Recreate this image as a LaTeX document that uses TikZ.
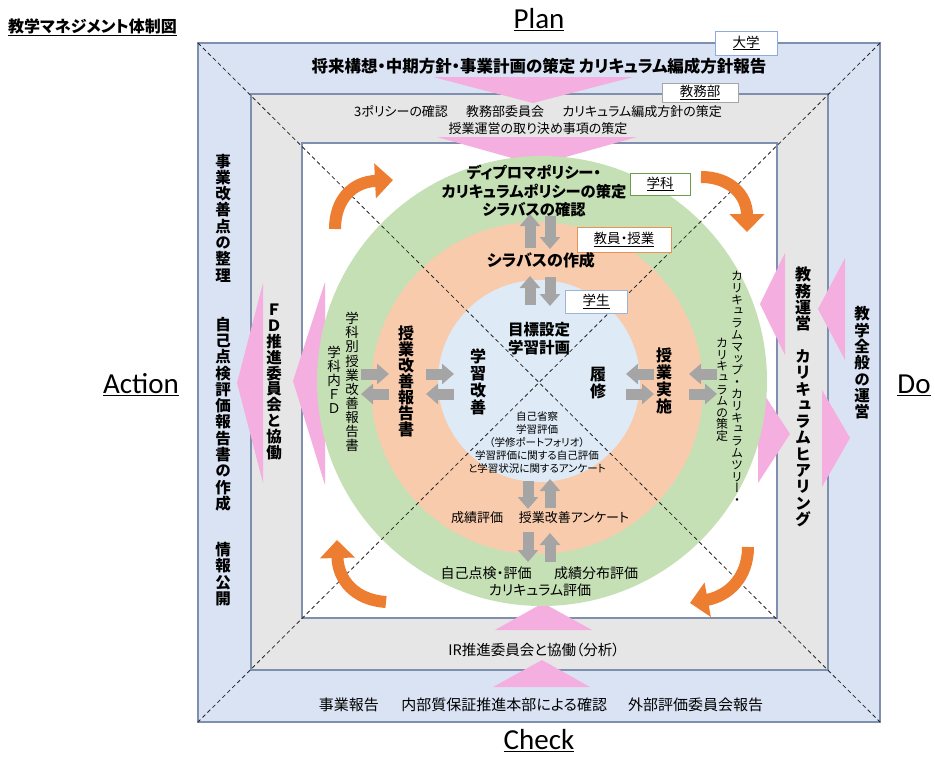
\documentclass[tikz,border=0pt]{standalone}
\usepackage{fontspec}
\setmainfont{Noto Sans CJK JP}[RawFeature=+palt]
\newfontfamily\jpv{Noto Sans CJK JP}[RawFeature=+vert]
\newfontfamily\lat{Carlito}
\usetikzlibrary{arrows.meta}
\definecolor{bandblue}{HTML}{DAE3F3}
\definecolor{bandgray}{HTML}{E7E6E6}
\definecolor{framec}{HTML}{7F8FAE}
\definecolor{cgreen}{HTML}{C5E0B4}
\definecolor{corange}{HTML}{F8CBAD}
\definecolor{cblue}{HTML}{DEEBF7}
\definecolor{cpink}{HTML}{F4AEE0}
\definecolor{carrow}{HTML}{ED7D31}
\definecolor{cgray}{HTML}{A5A5A5}
\definecolor{bxblue}{HTML}{8FAADC}
\definecolor{bxgray}{HTML}{A6A6A6}
\definecolor{bxgreen}{HTML}{6B9B4B}
\definecolor{bxorange}{HTML}{E8925A}
\definecolor{bxstud}{HTML}{9EB3D6}
\ExplSyntaxOn
\cs_new_protected:Npn \my_vstack:nn #1#2
  {
    \vbox:n
      {
        \skip_set:Nn \baselineskip {#1}
        \dim_set:Nn \lineskiplimit { -\c_max_dim }
        \tl_map_inline:nn {#2} { \hbox_to_wd:nn { 1.2em } { \hfil ##1 \hfil } }
      }
  }
\NewDocumentCommand \vt { O{1.05em} m } { { \jpv \my_vstack:nn {#1} {#2} } }
\ExplSyntaxOff
\newcommand\fz[2]{\fontsize{#1}{#2}\selectfont}
\begin{document}
\begin{tikzpicture}[x=1pt,y=-1pt,
  t/.style={inner sep=0pt, align=center, text=black},
  lbl/.style={fill=white, line width=1pt, inner sep=0pt, font=\fz{13.5}{16}},
  pinkarrow/.style={fill=cpink},
  oarrow/.style={draw=carrow, line width=12pt, -{Triangle[length=18pt,width=34pt]}},
  garrow/.style={draw=cgray, line width=11pt, -{Triangle[length=12pt,width=20pt]}},
  diag/.style={dash pattern=on 4pt off 3pt, line width=0.8pt, black!85}]
\useasboundingbox[fill=white] (0,0) rectangle (935,758);
% frames
\filldraw[fill=bandblue, draw=framec, line width=1.1pt] (198,43) rectangle (880,722);
\filldraw[fill=bandgray, draw=framec, line width=1.1pt] (251,94) rectangle (828,670);
\filldraw[fill=white, draw=framec, line width=1.1pt] (302,143) rectangle (777,618);
% pink arrows
\fill[pinkarrow] (433,77) -- (633,77) -- (533,103) -- cycle;
\fill[pinkarrow] (437,137) -- (637,137) -- (537,165) -- cycle;
\fill[pinkarrow] (495,630) -- (592,630) -- (543,603) -- cycle;
\fill[pinkarrow] (493,687) -- (590,687) -- (542,660) -- cycle;
\fill[pinkarrow] (263,283) -- (263,483) -- (237,383) -- cycle;
\fill[pinkarrow] (325,282) -- (325,485) -- (293,381) -- cycle;
\fill[pinkarrow] (785,253) -- (785,355) -- (760,304) -- cycle;
\fill[pinkarrow] (845,258) -- (845,360) -- (818,309) -- cycle;
\fill[pinkarrow] (758,385) -- (758,483) -- (790,434) -- cycle;
\fill[pinkarrow] (822,390) -- (822,487) -- (850,438) -- cycle;
% circles
\fill[cgreen] (542,381) circle[radius=225];
\fill[corange] (537,388) circle[radius=166];
\fill[cblue] (539,381) circle[radius=101];
% diagonals
\draw[diag] (198,43) -- (880,722);
\draw[diag] (880,43) -- (198,722);
% orange cycle arrows
\draw[oarrow] (335,229) .. controls (335,200) and (352,182) .. (393,180);
\draw[oarrow] (701,177) .. controls (730,177) and (747,195) .. (747,232);
\draw[oarrow] (748,547) .. controls (748,578) and (728,596) .. (690,603);
\draw[oarrow] (386,602) .. controls (355,600) and (338,580) .. (337,540);
% gray arrows
\draw[garrow] (530,248) -- (530,214);
\draw[garrow] (550,216) -- (550,249);
\draw[garrow] (530,305) -- (530,276);
\draw[garrow] (550,277) -- (550,306);
\draw[garrow] (528,481) -- (528,509);
\draw[garrow] (550,508) -- (550,479);
\draw[garrow] (528,532) -- (528,562);
\draw[garrow] (550,562) -- (550,533);
\draw[garrow] (361,374) -- (389,374);
\draw[garrow] (389,394) -- (361,394);
\draw[garrow] (426,374) -- (454,374);
\draw[garrow] (454,394) -- (426,394);
\draw[garrow] (654,374) -- (626,374);
\draw[garrow] (626,394) -- (654,394);
\draw[garrow] (717,374) -- (689,374);
\draw[garrow] (689,394) -- (717,394);
% label boxes
\node[lbl, draw=bxblue, minimum width=62pt, minimum height=24pt] (daigaku) at (746,43) {\underline{大学}};
\node[lbl, draw=bxgray, minimum width=76pt, minimum height=19pt] (kyomubu) at (700,92.5) {\underline{教務部}};
\node[lbl, draw=bxgreen, minimum width=60pt, minimum height=22pt] (gakka) at (660,184) {\underline{学科}};
\node[lbl, draw=bxorange, minimum width=94pt, minimum height=25pt] (kyoin) at (624,239.5) {\underline{教員・授業}};
\node[lbl, draw=bxstud, minimum width=62pt, minimum height=23pt] (gakusei) at (596,301.5) {\underline{学生}};
% corner labels
\node[t, anchor=west, font=\fz{16}{19}\bfseries] (title) at (8,27) {\underline{教学マネジメント体制図}};
\node[t, font=\lat\fz{29}{34}] (plan) at (539,20) {\underline{Plan}};
\node[t, font=\lat\fz{29}{34}] (check) at (539,741) {\underline{Check}};
\node[t, font=\lat\fz{29}{34}] (action) at (141,385) {\underline{Action}};
\node[t, font=\lat\fz{29}{34}] (do) at (914,385) {\underline{Do}};
% top band texts
\node[t, font=\fz{16.5}{19}\bfseries] (univ) at (539,66) {将来構想・中期方針・事業計画の策定 カリキュラム編成方針報告};
\node[t, font=\fz{13}{17}] (kyomu) at (538,120.5) {3ポリシーの確認\hspace{1.4em}教務部委員会\hspace{1.4em}カリキュラム編成方針の策定\\授業運営の取り決め事項の策定};
% circle texts
\node[t, font=\fz{15.3}{18.5}\bfseries] (dp) at (534,191.5) {ディプロマポリシー・\\カリキュラムポリシーの策定\\シラバスの確認};
\node[t, font=\fz{16}{18}\bfseries] (syl) at (541,260) {シラバスの作成};
\node[t, font=\fz{15.5}{18}\bfseries] (goal) at (539,338.5) {目標設定\\学習計画};
\node[t, font=\fz{10.5}{12.8}] (self) at (537,442.5) {自己省察\\学習評価\\（学修ポートフォリオ）\\学習評価に関する自己評価\\と学習状況に関するアンケート};
\node[t, font=\fz{16}{17}\bfseries] (kaizen) at (478,382) {\vt[17pt]{学習改善}};
\node[t, font=\fz{16}{17}\bfseries] (rishu) at (598,383) {\vt[17pt]{履修}};
\node[t, font=\fz{16}{17}\bfseries] (jisshi) at (664,381) {\vt[17pt]{授業実施}};
\node[t, font=\fz{16}{16}\bfseries] (hokoku) at (406,381) {\vt[16pt]{授業改善報告書}};
\node[t, font=\fz{13.5}{14}] (gakkabetsu) at (352,382) {\vt[14.1pt]{学科別授業改善報告書}};
\node[t, font=\fz{13.5}{14}] (gakkanai) at (334,380) {\vt[14pt]{学科内ＦＤ}};
\node[t, font=\fz{12}{12}] (cmap) at (737,388) {\vt[11.8pt]{カリキュラムマップ・カリキュラムツリー・}};
\node[t, font=\fz{12}{12}] (csaku) at (722,390) {\vt[11.6pt]{カリキュラムの策定}};
\node[t, font=\fz{13}{15}] (seiseki) at (477,518) {成績評価};
\node[t, font=\fz{13}{15}] (enq) at (574,518) {授業改善アンケート};
\node[t, font=\fz{14}{16}] (jiko) at (486,573) {自己点検・評価};
\node[t, font=\fz{14}{16}] (bunpu) at (596,573) {成績分布評価};
\node[t, font=\fz{14}{16}] (ceval) at (540,590) {カリキュラム評価};
% bottom band texts
\node[t, font=\fz{14.5}{17}] (ir) at (534,650) {IR推進委員会と協働（分析）};
\node[t, font=\fz{15}{17}] (report) at (541,705) {事業報告\hspace{1.5em}内部質保証推進本部による確認\hspace{1.4em}外部評価委員会報告};
% left band texts
\node[t, font=\fz{15.5}{16}\bfseries] (seiri) at (223,218) {\vt[16.3pt]{事業改善点の整理}};
\node[t, font=\fz{15.5}{16}\bfseries] (tenken) at (223,414) {\vt[16.3pt]{自己点検評価報告書の作成}};
\node[t, font=\fz{15.5}{16}\bfseries] (koukai) at (223,574) {\vt[16.3pt]{情報公開}};
\node[t, font=\fz{15.5}{16}\bfseries] (fd) at (274,382) {\vt[15.9pt]{ＦＤ推進委員会と協働}};
% right band texts
\node[t, font=\fz{16}{16}\bfseries] (unei) at (803,397) {\vt[16.3pt]{教務運営　カリキュラムヒアリング}};
\node[t, font=\fz{15.5}{16}\bfseries] (zenpan) at (862,363) {\vt[16.3pt]{教学全般の運営}};
\end{tikzpicture}
\end{document}
